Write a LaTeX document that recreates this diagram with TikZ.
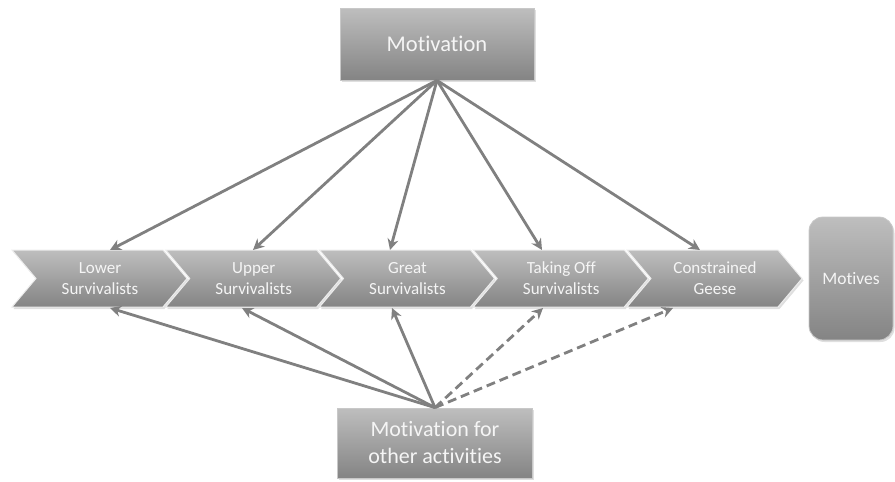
\documentclass[tikz,border=0pt]{standalone}
\usepackage{fontspec}
\setmainfont{Carlito}[Ligatures=NoCommon]
\usetikzlibrary{arrows.meta,shadows}
\definecolor{boxtop}{RGB}{190,190,190}
\definecolor{boxbot}{RGB}{132,132,132}
\definecolor{boxedge}{RGB}{200,200,200}
\definecolor{arrowgray}{RGB}{128,128,128}
\definecolor{txt}{RGB}{245,245,245}
\tikzset{
  boxfill/.style={top color=boxtop, bottom color=boxbot, draw=boxedge, line width=0.8pt,
    drop shadow={opacity=0.25, shadow xshift=1.5pt, shadow yshift=-2pt}},
  rbox/.style={boxfill, rectangle, text=txt, align=center, inner sep=0pt},
  conn/.style={draw=arrowgray, line width=2.8pt, -{Stealth[length=11pt,width=11pt,inset=3.5pt]}},
  dconn/.style={conn, dash pattern=on 9pt off 5pt},
  chevtext/.style={text=txt, align=center, font=\fontsize{17}{21}\selectfont}
}
\begin{document}
\begin{tikzpicture}[x=1pt,y=-1pt]
\useasboundingbox (0,0) rectangle (895,482);
% top and bottom boxes
\node[rbox, minimum width=194pt, minimum height=72pt, font=\fontsize{22.5}{26}\selectfont] (mot) at (437,44) {Motivation};
\node[rbox, minimum width=195pt, minimum height=70pt, font=\fontsize{22}{27}\selectfont] (oth) at (435,443) {Motivation for\\other activities};
\node[rbox, rounded corners=14pt, minimum width=84pt, minimum height=123pt, font=\fontsize{17.5}{21}\selectfont] (mvs) at (851,278.5) {Motives};
% chevrons
\foreach \L/\n/\t in {12/c1/{Lower\\Survivalists}, 165.75/c2/{Upper\\Survivalists}, 319.5/c3/{Great\\Survivalists}, 473.25/c4/{Taking Off\\Survivalists}, 627/c5/{Constrained\\Geese}}{
  \path[boxfill, draw=white!85!gray, line width=1pt] (\L,250) -- ++(151,0) -- ++(24,28.5) -- ++(-24,28.5) -- ++(-151,0) -- ++(24,-28.5) -- cycle;
  \node[chevtext] (\n) at (\L+88,278.5) {\t};
}
% arrow endpoints on chevron edges
\coordinate (t1) at (110,250);
\coordinate (t2) at (253,250);
\coordinate (t3) at (390,250);
\coordinate (t4) at (542,250);
\coordinate (t5) at (700,250);
\coordinate (b1) at (110,308);
\coordinate (b2) at (242,308);
\coordinate (b3) at (392,308);
\coordinate (b4) at (543,308);
\coordinate (b5) at (673,308);
\foreach \i in {1,...,5}{
  \draw[conn] (mot.south) -- (t\i);
}
\foreach \i in {1,2,3}{
  \draw[conn] (oth.north) -- (b\i);
}
\draw[dconn] (oth.north) -- (b4);
\draw[dconn] (oth.north) -- (b5);
\end{tikzpicture}
\end{document}
